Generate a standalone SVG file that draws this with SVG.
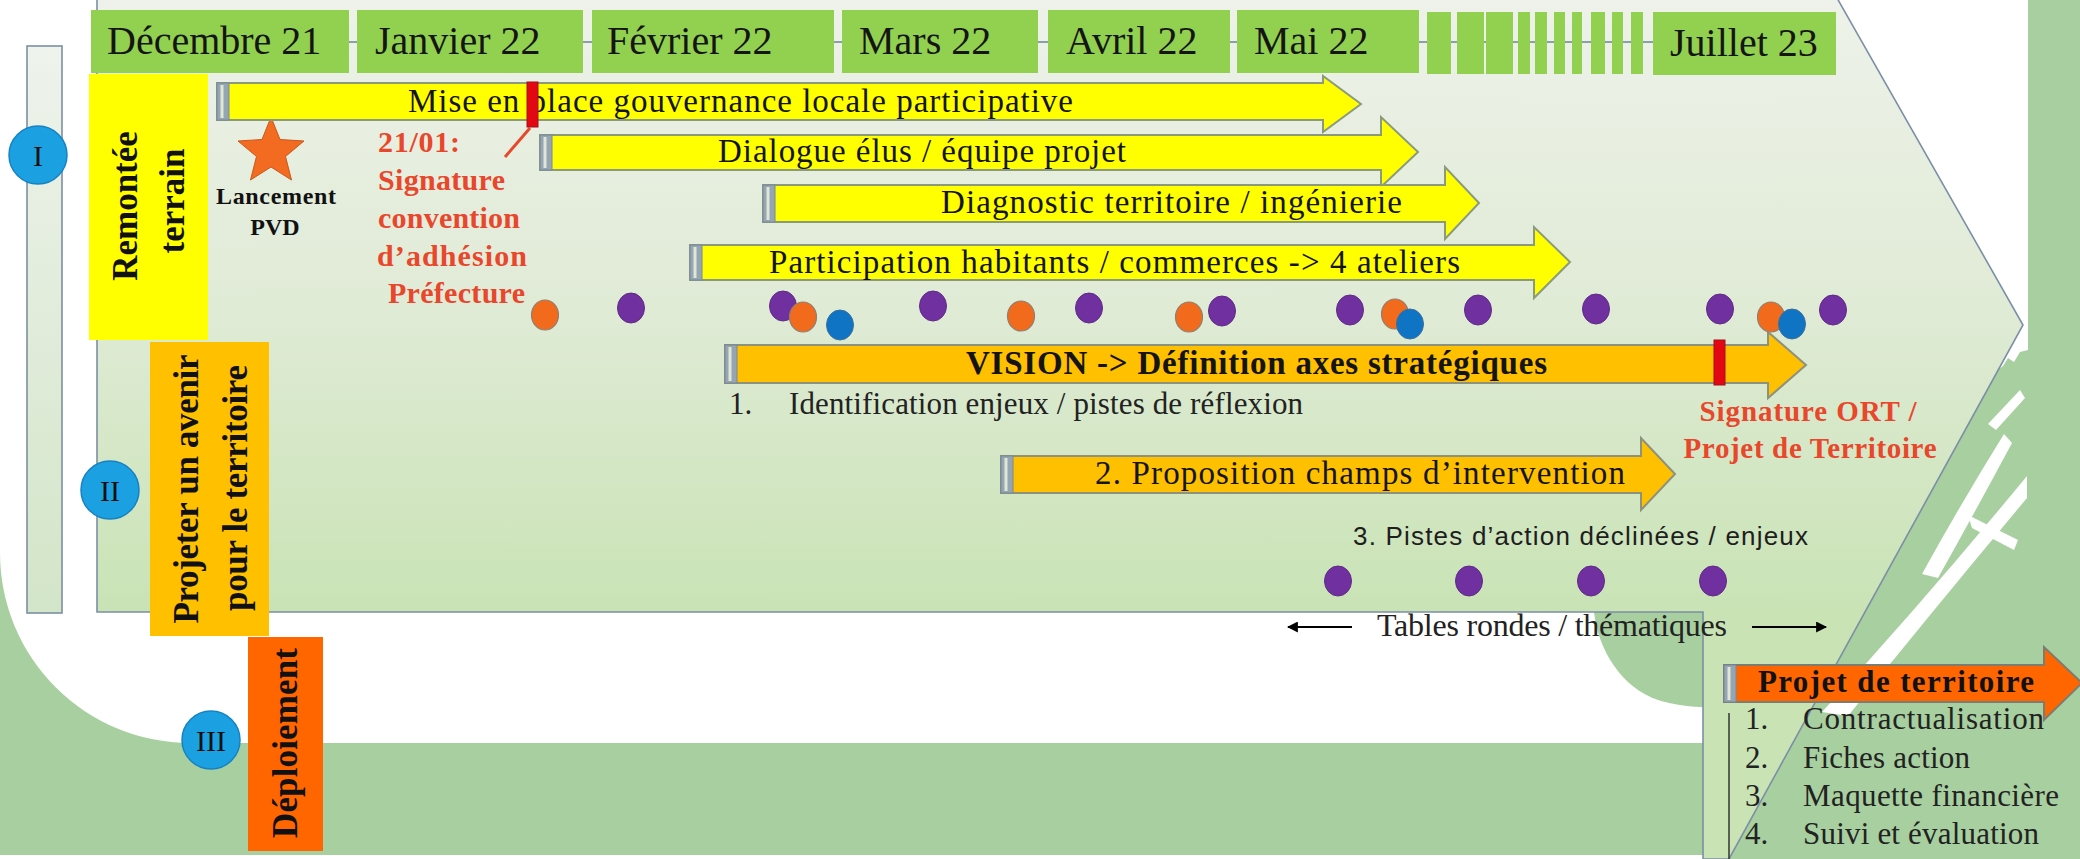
<svg xmlns="http://www.w3.org/2000/svg" width="2080" height="859" viewBox="0 0 2080 859">
<defs>
<linearGradient id="chevGrad" gradientUnits="userSpaceOnUse" x1="0" y1="0" x2="0" y2="612">
<stop offset="0" stop-color="#eef2ea"/>
<stop offset="0.5" stop-color="#e0ebd6"/>
<stop offset="1" stop-color="#c9e3b5"/>
</linearGradient>
<linearGradient id="barGrad" gradientUnits="userSpaceOnUse" x1="0" y1="46" x2="0" y2="613">
<stop offset="0" stop-color="#eef3ec"/>
<stop offset="1" stop-color="#d3e5c8"/>
</linearGradient>
<marker id="ah" viewBox="0 0 10 10" refX="9" refY="5" markerWidth="5" markerHeight="5" orient="auto-start-reverse">
<path d="M0,0 L10,5 L0,10 Z" fill="#000"/>
</marker>
<style>
.serif{font-family:"Liberation Serif","Times New Roman",serif}
.sans{font-family:"Liberation Sans",Arial,sans-serif}
.month rect{fill:#92d050}
.mt{font-family:"Liberation Serif",serif;font-size:40px;fill:#151515}
.ay{fill:#ffff00;stroke:#8c9a7c;stroke-width:2}
.ao{fill:#ffc000;stroke:#8c927c;stroke-width:2}
.ar{fill:#ff6600;stroke:#7c7c70;stroke-width:2}
.tail{fill:#96a5b4;stroke:#76889a;stroke-width:1}
.tailin{stroke:#dfe6d2;stroke-width:3}
.at{font-family:"Liberation Serif",serif;font-size:33px;fill:#141414}
.red{font-family:"Liberation Serif",serif;font-weight:bold;fill:#e8472c}
.phase{font-family:"Liberation Serif",serif;font-weight:bold;font-size:35px;fill:#111}
.circ{fill:#1ba1e2;stroke:#1782c2;stroke-width:1.5}
.ct{font-family:"Liberation Serif",serif;font-size:30px;fill:#111}
.dp{fill:#7030a0;stroke:#5d2a86;stroke-width:1}
.do{fill:#f26b1d;stroke:#8e7f70;stroke-width:1.2}
.db{fill:#0f74c4;stroke:#3a6f9a;stroke-width:1}
.lst{font-family:"Liberation Serif",serif;font-size:31px;fill:#222}
.edge{stroke:#7b8fa6;stroke-width:1.6}
.deco{fill:#a8cf9f}
.wst{fill:#ffffff}
</style>
</defs>

<g id="background">
<rect x="0" y="0" width="2080" height="859" fill="#ffffff"/>
<rect x="0" y="540" width="1710" height="315" class="deco"/>
<path d="M0,540 L0,553 A190,190 0 0 0 190,743 L1710,743 L1710,540 Z" fill="#ffffff"/>
<rect x="2028" y="0" width="52" height="859" class="deco"/>
<path class="deco" d="M1720,859 L1890,560 L1960,440 L1995,372 L2003,366 L2008,358 L2014,362 L2020,352 L2028,350 L2028,859 Z"/>
<path class="wst" d="M1822,712 Q1925,600 2027,476 L2027,498 Q1935,608 1848,716 Z"/>
<path class="wst" d="M1922,574 Q1960,505 2004,434 L2012,443 Q1975,512 1938,578 Z"/>
<path class="wst" d="M1988,424 L2020,390 L2025,398 L1996,430 Z"/>
<path class="wst" d="M1968,515 L2018,540 L2014,550 L1972,528 Z"/>
<path class="deco" d="M1703,612 L1594,612 C1598,650 1622,688 1658,700 C1680,707 1703,707 1703,707 Z"/>
<circle cx="1684" cy="698" r="6" class="deco"/>
</g>

<g id="chevron">
<rect x="27" y="46" width="35" height="567" fill="url(#barGrad)" class="edge"/>
<path d="M97,-2 L1837,-2 L2023,325 L1729,859 L1703,859 L1703,612 L97,612 Z" fill="url(#chevGrad)" class="edge"/>
</g>

<g id="connectors">
<line x1="349" y1="42" x2="1653" y2="42" stroke="#8e9eac" stroke-width="2"/>
<line x1="530" y1="128" x2="505" y2="157" stroke="#e8472c" stroke-width="3"/>
<line x1="1352" y1="627" x2="1288" y2="627" stroke="#000" stroke-width="2.2" marker-end="url(#ah)"/>
<line x1="1752" y1="627" x2="1826" y2="627" stroke="#000" stroke-width="2.2" marker-end="url(#ah)"/>
<line x1="1729" y1="713" x2="1729" y2="859" stroke="#333" stroke-width="1.5"/>
</g>

<g id="months" class="month">
<g id="m-dec"><rect x="91" y="10" width="258" height="63"/><text class="mt" x="107" y="54">Décembre 21</text></g>
<g id="m-jan"><rect x="357" y="10" width="226" height="63"/><text class="mt" x="375" y="54">Janvier 22</text></g>
<g id="m-fev"><rect x="592" y="10" width="242" height="63"/><text class="mt" x="607" y="54">Février 22</text></g>
<g id="m-mar"><rect x="842" y="10" width="196" height="63"/><text class="mt" x="859" y="54">Mars 22</text></g>
<g id="m-avr"><rect x="1048" y="10" width="182" height="63"/><text class="mt" x="1066" y="54">Avril 22</text></g>
<g id="m-mai"><rect x="1237" y="10" width="182" height="63"/><text class="mt" x="1254" y="54">Mai 22</text></g>
<g id="m-gap">
<rect x="1427" y="12" width="24" height="62"/>
<rect x="1457" y="12" width="27" height="62"/>
<rect x="1486" y="12" width="27" height="62"/>
<rect x="1518" y="12" width="12" height="62"/>
<rect x="1535" y="12" width="12" height="62"/>
<rect x="1554" y="12" width="11" height="62"/>
<rect x="1572" y="12" width="10" height="62"/>
<rect x="1591" y="12" width="14" height="62"/>
<rect x="1612" y="12" width="11" height="62"/>
<rect x="1631" y="12" width="12" height="62"/>
</g>
<g id="m-jul"><rect x="1653" y="12" width="183" height="63"/><text class="mt" x="1670" y="56">Juillet 23</text></g>
</g>

<g id="phase-1">
<rect x="89" y="74" width="119" height="266" fill="#ffff00"/>
<text class="phase" transform="translate(125,206) rotate(-90)" text-anchor="middle" dominant-baseline="central">Remontée</text>
<text class="phase" transform="translate(172,201) rotate(-90)" text-anchor="middle" dominant-baseline="central">terrain</text>
</g>
<g id="phase-2">
<rect x="150" y="342" width="119" height="294" fill="#ffc000"/>
<text class="phase" transform="translate(186,489) rotate(-90)" text-anchor="middle" dominant-baseline="central" textLength="269">Projeter un avenir</text>
<text class="phase" transform="translate(235,488) rotate(-90)" text-anchor="middle" dominant-baseline="central" textLength="246">pour le territoire</text>
</g>
<g id="phase-3">
<rect x="248" y="637" width="75" height="214" fill="#ff6600"/>
<text class="phase" transform="translate(285,743) rotate(-90)" text-anchor="middle" dominant-baseline="central" textLength="190">Déploiement</text>
</g>

<g id="circle-I"><circle class="circ" cx="38" cy="155" r="29"/><text class="ct" x="38" y="166" text-anchor="middle">I</text></g>
<g id="circle-II"><circle class="circ" cx="110" cy="490" r="29"/><text class="ct" x="110" y="501" text-anchor="middle">II</text></g>
<g id="circle-III"><circle class="circ" cx="211" cy="740" r="29"/><text class="ct" x="211" y="751" text-anchor="middle">III</text></g>

<g id="launch">
<polygon points="271,117 280,139.5 304,141 285.5,156.5 291.5,180 271,167 250.5,180 256.5,156.5 238,141 262,139.5" fill="#f26b21" stroke="#c8581a" stroke-width="1"/>
<text class="serif" x="276" y="204" text-anchor="middle" font-size="24" font-weight="bold" fill="#111" textLength="120">Lancement</text>
<text class="serif" x="275" y="235" text-anchor="middle" font-size="24" font-weight="bold" fill="#111">PVD</text>
</g>

<g id="arrow-gouvernance">
<path class="ay" d="M217,83 L1323,83 L1323,76 L1361,104 L1323,132 L1323,120 L217,120 Z"/>
<rect class="tail" x="217" y="83" width="12" height="37"/><line class="tailin" x1="222" y1="85" x2="222" y2="118"/>
<text class="at" x="408" y="112" textLength="665">Mise en place gouvernance locale participative</text>
<rect x="527" y="82" width="11" height="45" fill="#e30613" stroke="#a0101a" stroke-width="1"/>
</g>

<g id="signature-convention">
<text class="red" font-size="30" x="378" y="152" textLength="82">21/01:</text>
<text class="red" font-size="30" x="378" y="190" textLength="127">Signature</text>
<text class="red" font-size="30" x="378" y="228" textLength="142">convention</text>
<text class="red" font-size="30" x="377" y="266" textLength="150">d’adhésion</text>
<text class="red" font-size="30" x="388" y="303" textLength="137">Préfecture</text>
</g>

<g id="arrow-dialogue">
<path class="ay" d="M540,135 L1381,135 L1381,117 L1418,152 L1381,187 L1381,170 L540,170 Z"/>
<rect class="tail" x="540" y="135" width="12" height="35"/><line class="tailin" x1="545" y1="137" x2="545" y2="168"/>
<text class="at" x="718" y="162" textLength="408">Dialogue élus / équipe projet</text>
</g>

<g id="arrow-diagnostic">
<path class="ay" d="M763,185 L1445,185 L1445,167 L1479,203 L1445,239 L1445,222 L763,222 Z"/>
<rect class="tail" x="763" y="185" width="12" height="37"/><line class="tailin" x1="768" y1="187" x2="768" y2="220"/>
<text class="at" x="941" y="213" textLength="461">Diagnostic territoire / ingénierie</text>
</g>

<g id="arrow-participation">
<path class="ay" d="M690,245 L1534,245 L1534,227 L1570,262 L1534,298 L1534,280 L690,280 Z"/>
<rect class="tail" x="690" y="245" width="12" height="35"/><line class="tailin" x1="695" y1="247" x2="695" y2="278"/>
<text class="at" x="769" y="273" textLength="691">Participation habitants / commerces -&gt; 4 ateliers</text>
</g>

<g id="arrow-vision">
<path class="ao" d="M725,345 L1768,345 L1768,332 L1806,365 L1768,398 L1768,383 L725,383 Z"/>
<rect class="tail" x="725" y="345" width="12" height="38"/><line class="tailin" x1="730" y1="347" x2="730" y2="381"/>
<text class="at" font-weight="bold" x="966" y="374" textLength="581">VISION -&gt; Définition axes stratégiques</text>
<rect x="1714" y="340" width="11" height="45" fill="#e30613" stroke="#a0101a" stroke-width="1"/>
</g>

<g id="step-1">
<text class="serif" font-size="31" fill="#222" x="729" y="414">1.</text>
<text class="serif" font-size="31" fill="#222" x="789" y="414" textLength="514">Identification enjeux / pistes de réflexion</text>
</g>

<g id="arrow-proposition">
<path class="ao" d="M1001,456 L1641,456 L1641,438 L1675,474 L1641,510 L1641,493 L1001,493 Z"/>
<rect class="tail" x="1001" y="456" width="12" height="37"/><line class="tailin" x1="1006" y1="458" x2="1006" y2="491"/>
<text class="at" font-size="32" x="1095" y="484" textLength="530">2. Proposition champs d’intervention</text>
</g>

<g id="signature-ort">
<text class="red" font-size="29" x="1808" y="421" text-anchor="middle" textLength="217">Signature ORT /</text>
<text class="red" font-size="29" x="1810" y="458" text-anchor="middle" textLength="253">Projet de Territoire</text>
</g>

<g id="step-3">
<text class="sans" font-size="26" fill="#1e1e1e" x="1353" y="545" textLength="455">3. Pistes d’action déclinées / enjeux</text>
</g>

<g id="tables-rondes">
<text class="serif" font-size="32" fill="#222" x="1377" y="636" textLength="350">Tables rondes / thématiques</text>
</g>

<g id="dots">
<ellipse class="do" cx="545" cy="315" rx="13.5" ry="15"/>
<ellipse class="dp" cx="631" cy="308" rx="13.5" ry="15"/>
<ellipse class="dp" cx="783" cy="306" rx="13.5" ry="15"/>
<ellipse class="do" cx="803" cy="317" rx="13.5" ry="15"/>
<ellipse class="db" cx="840" cy="325" rx="13.5" ry="15"/>
<ellipse class="dp" cx="933" cy="306" rx="13.5" ry="15"/>
<ellipse class="do" cx="1021" cy="316" rx="13.5" ry="15"/>
<ellipse class="dp" cx="1089" cy="308" rx="13.5" ry="15"/>
<ellipse class="do" cx="1189" cy="317" rx="13.5" ry="15"/>
<ellipse class="dp" cx="1222" cy="311" rx="13.5" ry="15"/>
<ellipse class="dp" cx="1350" cy="310" rx="13.5" ry="15"/>
<ellipse class="do" cx="1395" cy="314" rx="13.5" ry="15"/>
<ellipse class="db" cx="1410" cy="324" rx="13.5" ry="15"/>
<ellipse class="dp" cx="1478" cy="310" rx="13.5" ry="15"/>
<ellipse class="dp" cx="1596" cy="309" rx="13.5" ry="15"/>
<ellipse class="dp" cx="1720" cy="309" rx="13.5" ry="15"/>
<ellipse class="do" cx="1771" cy="317" rx="13.5" ry="15"/>
<ellipse class="db" cx="1792" cy="324" rx="13.5" ry="15"/>
<ellipse class="dp" cx="1833" cy="310" rx="13.5" ry="15"/>
<ellipse class="dp" cx="1338" cy="581" rx="13.5" ry="15"/>
<ellipse class="dp" cx="1469" cy="581" rx="13.5" ry="15"/>
<ellipse class="dp" cx="1591" cy="581" rx="13.5" ry="15"/>
<ellipse class="dp" cx="1713" cy="581" rx="13.5" ry="15"/>
</g>

<g id="projet-territoire">
<path class="ar" d="M1724,665 L2044,665 L2044,647 L2082,683 L2044,720 L2044,702 L1724,702 Z"/>
<rect class="tail" x="1724" y="665" width="12" height="37"/><line class="tailin" x1="1729" y1="667" x2="1729" y2="700"/>
<text class="serif" font-size="31" font-weight="bold" fill="#111" x="1758" y="692" textLength="276">Projet de territoire</text>
</g>

<g id="deploiement-list">
<text class="lst" x="1745" y="729">1.</text><text class="lst" x="1803" y="729" textLength="241">Contractualisation</text>
<text class="lst" x="1745" y="768">2.</text><text class="lst" x="1803" y="768" textLength="167">Fiches action</text>
<text class="lst" x="1745" y="806">3.</text><text class="lst" x="1803" y="806" textLength="256">Maquette financière</text>
<text class="lst" x="1745" y="844">4.</text><text class="lst" x="1803" y="844" textLength="236">Suivi et évaluation</text>
</g>
</svg>
